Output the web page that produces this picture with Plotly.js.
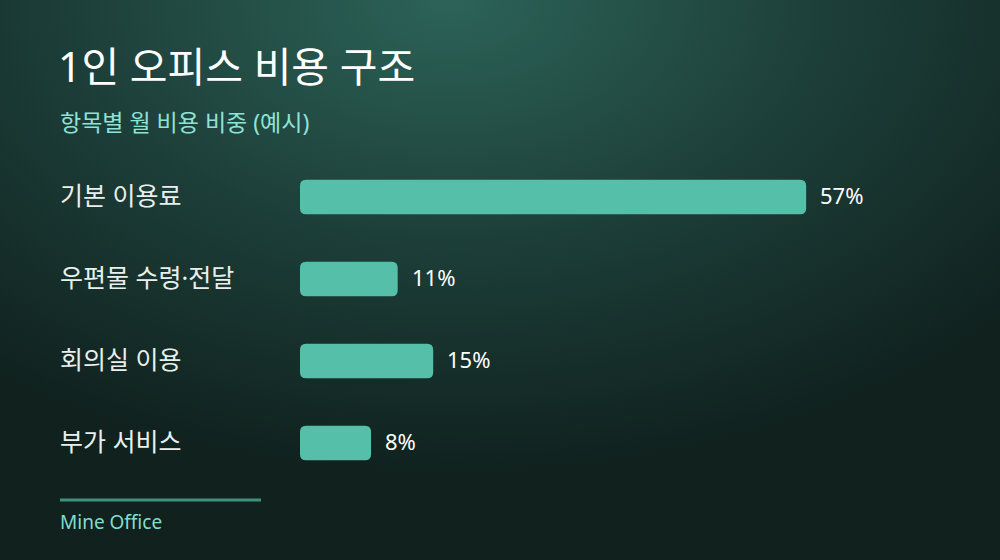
<!DOCTYPE html>
<html>
<head>
<meta charset="utf-8">
<script src="https://cdn.plot.ly/plotly-3.0.1.min.js"></script>
<style>
  html, body { margin: 0; padding: 0; }
  body {
    width: 1000px; height: 560px; overflow: hidden;
    background: radial-gradient(ellipse 75% 85% at 45% 0%, #2c6358 0%, #1d3f39 50%, #10211e 100%);
  }
  #chart { width: 1000px; height: 560px; }
</style>
</head>
<body>
<div id="chart"></div>
<script>
// 항목별 월 비용 비중
const categories = ["기본 이용료", "우편물 수령·전달", "회의실 이용", "부가 서비스"];
const shares = [57, 11, 15, 8];

const W = 1000, H = 560;
const M = { l: 300, r: 0, t: 156, b: 76 };
const plotW = W - M.l - M.r, plotH = H - M.t - M.b;
const xPerPx = 1 / 8.88;             // x축 단위 / 픽셀
const yPerPx = 4 / plotH;             // y축 단위 / 픽셀
// 픽셀 -> paper 좌표
const px = (x) => (x - M.l) / plotW;
const py = (y) => (H - M.b - y) / plotH;

// 라틴/기호는 Noto Sans, 한글은 CJK 폰트로
const font = '"Noto Sans", "Noto Sans CJK KR", sans-serif';
const barColor = "#55bfa9";
const barHalf = 0.21;
const yPos = categories.map((c, i) => i);

// 축 기준 잡는 막대 (실제 모양은 아래 둥근 사각형 shape)
const bars = {
  type: "bar",
  orientation: "h",
  x: shares,
  y: yPos,
  width: barHalf * 2,
  marker: { color: "rgba(0,0,0,0)", line: { width: 0 } },
  hoverinfo: "none",
};

// 네 모서리가 둥근 막대
function roundBar(v, yc) {
  const rx = 6 * xPerPx, ry = 6 * yPerPx;
  const y0 = yc - barHalf, y1 = yc + barHalf;
  return {
    type: "path", xref: "x", yref: "y", layer: "above",
    path: `M ${rx},${y0} L ${v - rx},${y0} Q ${v},${y0} ${v},${y0 + ry}` +
          ` L ${v},${y1 - ry} Q ${v},${y1} ${v - rx},${y1}` +
          ` L ${rx},${y1} Q 0,${y1} 0,${y1 - ry}` +
          ` L 0,${y0 + ry} Q 0,${y0} ${rx},${y0} Z`,
    fillcolor: barColor,
    line: { width: 0 },
  };
}

// 왼쪽 항목 라벨
const labelNotes = categories.map((c, i) => ({
  xref: "paper", yref: "y",
  x: px(60), y: yPos[i],
  text: c, showarrow: false,
  xanchor: "left", yanchor: "middle",
  xshift: -2, yshift: 2,
  font: { family: font, size: 25, color: "#e9efed" },
}));

// 막대 끝 값 라벨
const valueNotes = categories.map((c, i) => ({
  xref: "x", yref: "y",
  x: shares[i], y: yPos[i],
  text: shares[i] + "%", showarrow: false,
  xanchor: "left", yanchor: "middle",
  xshift: 12, yshift: 2,
  font: { family: font, size: 22, color: "#ffffff" },
}));

const layout = {
  width: W, height: H,
  margin: M,
  paper_bgcolor: "rgba(0,0,0,0)",
  plot_bgcolor: "rgba(0,0,0,0)",
  showlegend: false,
  title: {
    text: "1인 오피스 비용 구조",
    x: 58 / W, xanchor: "left", xref: "container",
    y: 1 - 68 / H, yanchor: "middle", yref: "container",
    font: { family: font, size: 41, color: "#ffffff" },
  },
  xaxis: { range: [0, plotW * xPerPx], visible: false, fixedrange: true },
  yaxis: { range: [3.5, -0.5], visible: false, fixedrange: true },
  annotations: [
    {
      xref: "paper", yref: "paper",
      x: px(60), y: py(122), xshift: -2,
      text: "항목별 월 비용 비중 (예시)", showarrow: false,
      xanchor: "left", yanchor: "middle",
      font: { family: font, size: 23, color: "#8fe3d6" },
    },
    {
      xref: "paper", yref: "paper",
      x: px(60), y: py(522), xshift: -2,
      text: "Mine Office", showarrow: false,
      xanchor: "left", yanchor: "middle",
      font: { family: font, size: 19, color: "#82ddd1" },
    },
    ...labelNotes,
    ...valueNotes,
  ],
  shapes: [
    ...shares.map((v, i) => roundBar(v, yPos[i])),
    {
      type: "line", xref: "paper", yref: "paper",
      x0: px(60), x1: px(261), y0: py(500), y1: py(500),
      line: { color: "#3f917d", width: 3 },
    },
  ],
};

Plotly.newPlot("chart", [bars], layout, { displayModeBar: false, staticPlot: true });
</script>
</body>
</html>
